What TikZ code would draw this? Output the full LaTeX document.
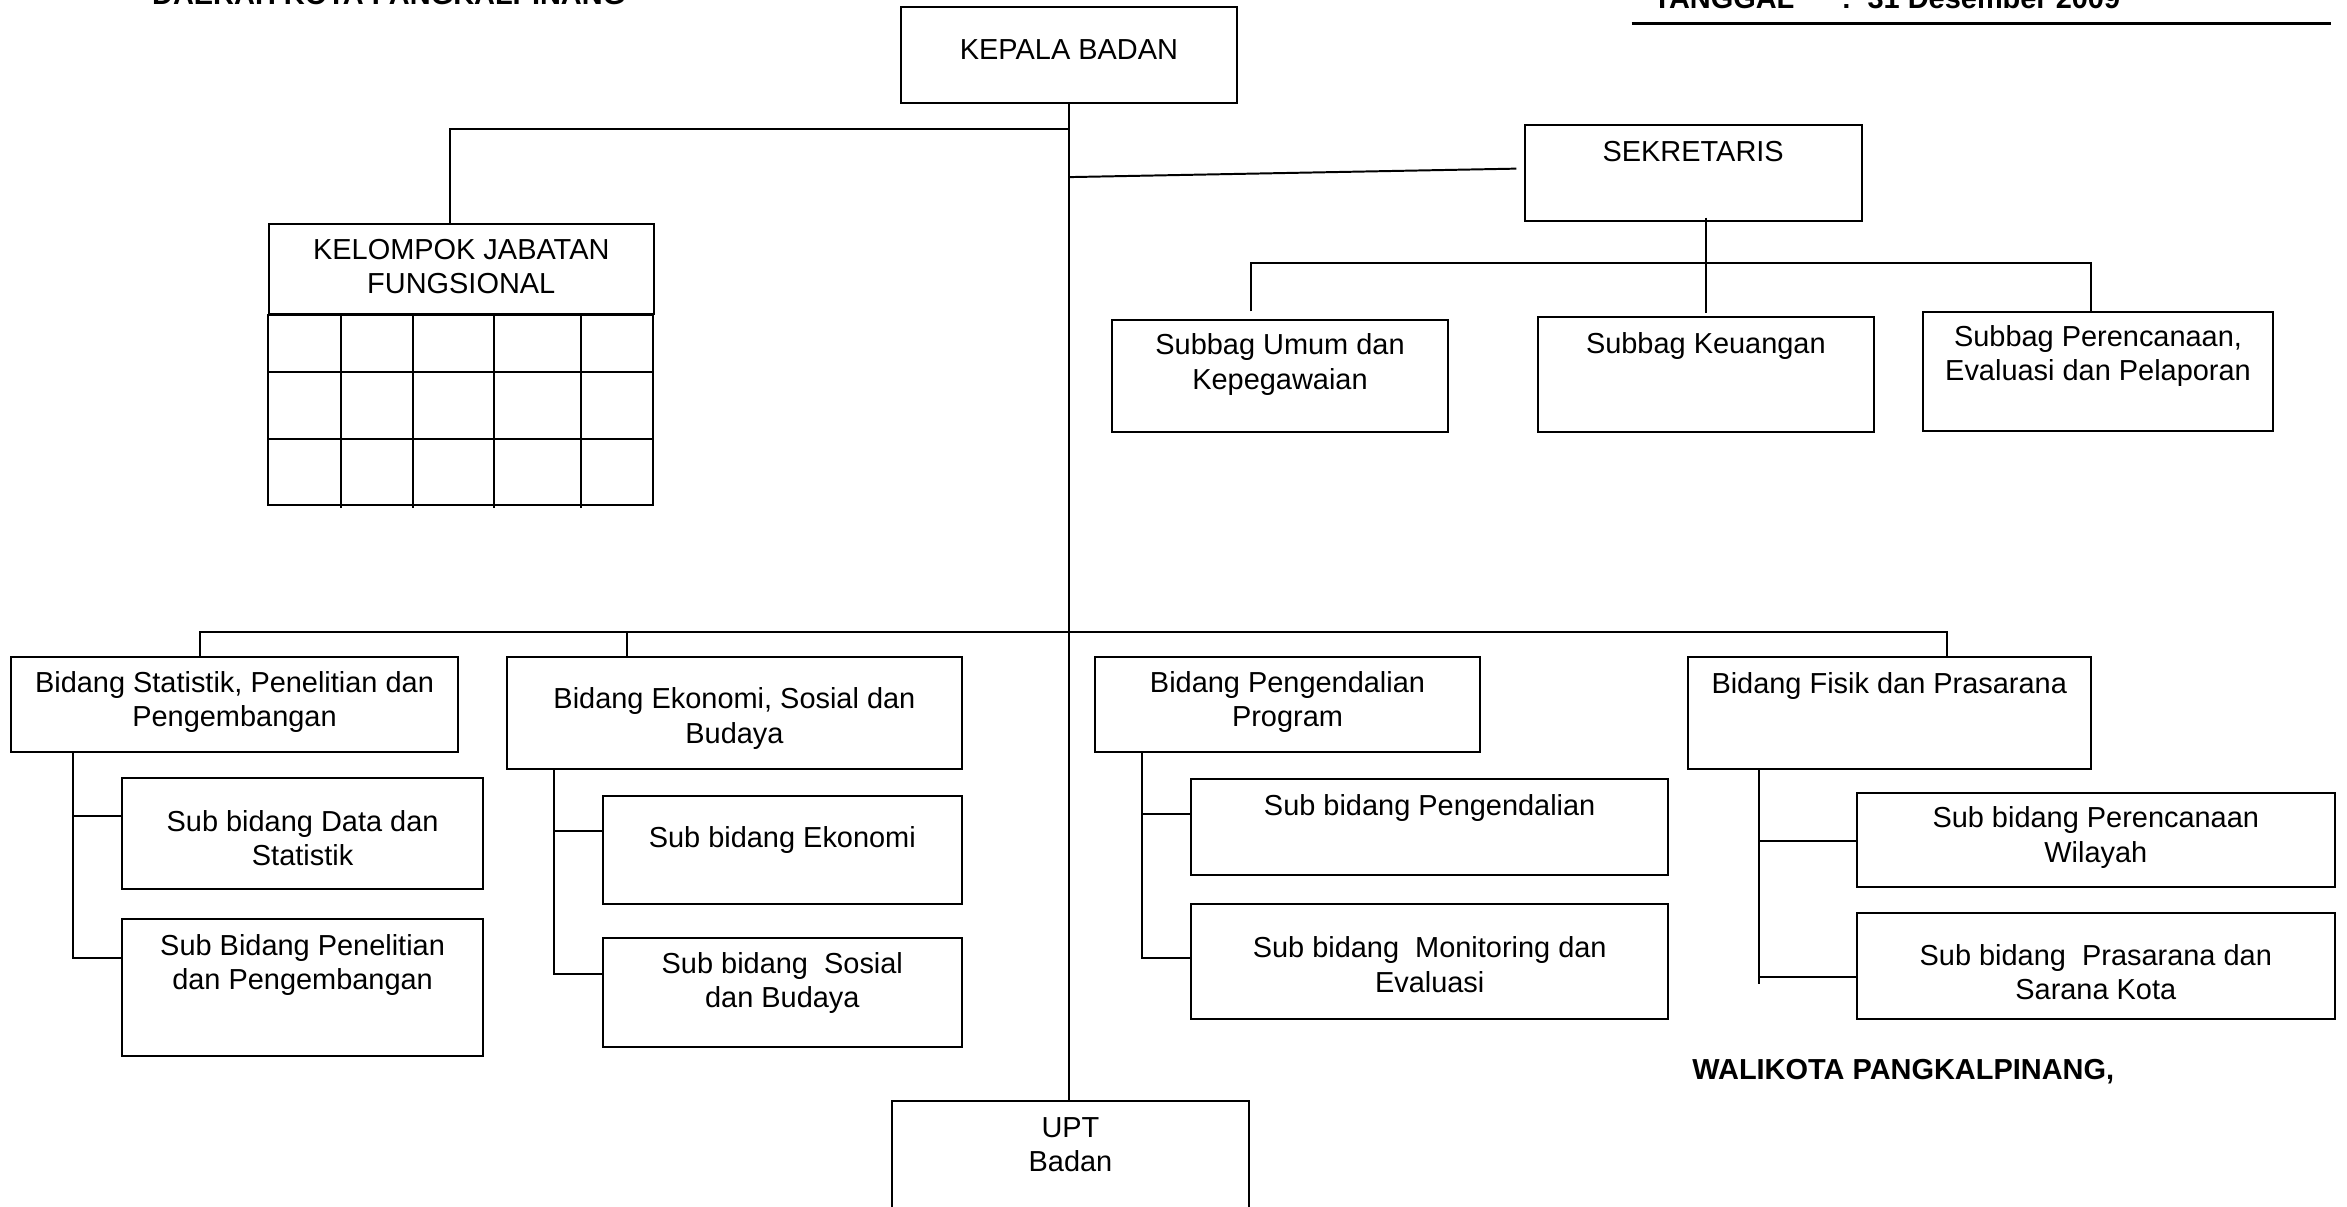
\documentclass[tikz,border=0pt]{standalone}
\usepackage{fontspec}
\setmainfont{Liberation Sans}
\usetikzlibrary{calc}
\tikzset{
  kotak/.style n args={4}{draw, anchor=north west, inner sep=0pt,
    minimum width=#1*0.2mm, minimum height=#2*0.2mm,
    label={[anchor=center, align=center, inner sep=0pt, yshift=-#3*0.2mm]north:#4}},
  judul/.style={anchor=base west, inner sep=0pt, font=\fontsize{11}{13}\selectfont\bfseries}
}
\begin{document}
\begin{tikzpicture}[x=0.2mm, y=-0.2mm, line width=0.75pt, font=\fontsize{11}{13}\selectfont]
\useasboundingbox (0,0) rectangle (1568,806);
% kepala
\node[judul] (daerah) at (101,3) {DAERAH KOTA PANGKALPINANG};
\node[judul] (tanggal) at (1104,6) {TANGGAL\hspace{6.3mm}:\hspace{2.2mm}31 Desember 2009};
\draw[line width=1.1pt] (1090,15.6) -- (1557,15.6);
% pimpinan dan sekretariat
\node[kotak={225}{64}{29}{KEPALA BADAN}] (kb) at (601,4) {};
\node[kotak={225}{64}{18}{SEKRETARIS}] (sek) at (1018,83) {};
\node[kotak={257}{60}{29}{KELOMPOK JABATAN\\FUNGSIONAL}] (kjf) at (179,149) {};
\node[kotak={225}{75}{30.5}{Subbag Umum dan\\Kepegawaian}] (sbU) at (742,213) {};
\node[kotak={224}{77}{20}{Subbag Keuangan}] (sbK) at (1027,211) {};
\node[kotak={234}{79}{30}{Subbag Perencanaan,\\Evaluasi dan Pelaporan}] (sbP) at (1284,208) {};
% tabel jabatan fungsional
\draw (kjf.south west) rectangle ++(257,127);
\foreach \x in {49,97,151,209} \draw ($(kjf.south west)+(\x,0)$) -- ++(0,129);
\foreach \y in {38,83} \draw ($(kjf.south west)+(0,\y)$) -- ++(257,0);
% bidang
\node[kotak={298}{64}{31}{Bidang Statistik, Penelitian dan\\Pengembangan}] (bStat) at (7,438) {};
\node[kotak={304}{75}{42}{Bidang Ekonomi, Sosial dan\\Budaya}] (bEko) at (338,438) {};
\node[kotak={257}{64}{31}{Bidang Pengendalian\\Program}] (bPeng) at (731,438) {};
\node[kotak={269}{75}{20}{Bidang Fisik dan Prasarana}] (bFis) at (1127,438) {};
% sub bidang
\node[kotak={241}{74}{41}{Sub bidang Data dan\\Statistik}] (sData) at (81,519) {};
\node[kotak={241}{92}{31.5}{Sub Bidang Penelitian\\dan Pengembangan}] (sPen) at (81,613) {};
\node[kotak={240}{72}{30}{Sub bidang Ekonomi}] (sEko) at (402,531) {};
\node[kotak={240}{73}{30.5}{Sub bidang\ \ Sosial\\dan Budaya}] (sSos) at (402,626) {};
\node[kotak={319}{64}{20}{Sub bidang Pengendalian}] (sPgd) at (795,520) {};
\node[kotak={319}{77}{41.5}{Sub bidang\ \ Monitoring dan\\Evaluasi}] (sMon) at (795,603) {};
\node[kotak={319}{63}{30.5}{Sub bidang Perencanaan\\Wilayah}] (sWil) at (1240,529) {};
\node[kotak={319}{71}{40.5}{Sub bidang\ \ Prasarana dan\\Sarana Kota}] (sPra) at (1240,609) {};
\node[kotak={239}{90}{30}{UPT\\Badan}] (upt) at (595,735) {};
\node[judul] (walikota) at (1130,721) {WALIKOTA PANGKALPINANG,};
% garis komando
\draw (kb.south) -- (kb.south |- upt.north);
\draw ($(kb.south)+(0,17)$) -| ($(kjf.north)+(-7.5,0)$);
\draw ($(kb.south)+(0,49)$) -- ($(sek.west)+(-5,-3)$);
\draw ($(sbK.north |- sek.south)+(0,-3)$) -- ($(sbK.north)+(0,-2)$);
\draw ($(sbU.north)+(-19.5,-5)$) |- ($(sbP.north)+(-5,-32)$) -- ++(0,32);
\draw ($(bStat.north)+(-23,0)$) |- ($(bFis.north)+(38.5,-16)$) -- ++(0,16);
\draw ($(bEko.north)+(-72,0)$) -- ++(0,-16);
% garis sub bidang
\draw ($(bStat.south west)+(42,0)$) |- ($(sPen.north west)+(0,27)$);
\draw ($(sData.north west)+(0,26)$) -- ++(-32,0);
\draw ($(bEko.south west)+(32,0)$) |- ($(sSos.north west)+(0,25)$);
\draw ($(sEko.north west)+(0,24)$) -- ++(-32,0);
\draw ($(bPeng.south west)+(32,0)$) |- ($(sMon.north west)+(0,37)$);
\draw ($(sPgd.north west)+(0,24)$) -- ++(-32,0);
\draw ($(bFis.south west)+(48,0)$) -- ++(0,143);
\draw ($(sWil.north west)+(0,33)$) -- ++(-65,0);
\draw ($(sPra.north west)+(0,44)$) -- ++(-65,0);
\end{tikzpicture}
\end{document}
